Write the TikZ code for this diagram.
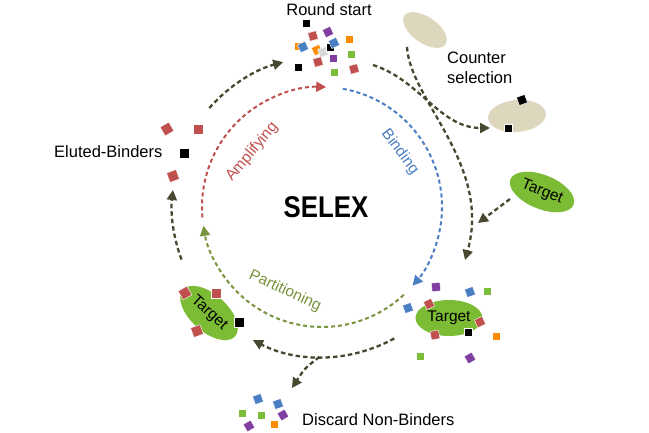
\documentclass[tikz,border=0pt]{standalone}
\usepackage{fontspec}
\usepackage{graphicx}
\setmainfont{Liberation Sans}
\usetikzlibrary{arrows.meta,shapes.geometric}
\definecolor{dk}{RGB}{72,71,48}
\definecolor{cred}{RGB}{192,80,77}
\definecolor{cblue}{RGB}{74,126,195}
\definecolor{cgreen}{RGB}{119,147,60}
\definecolor{tgreen}{RGB}{124,187,52}
\definecolor{beige}{RGB}{221,215,190}
\definecolor{sqgreen}{RGB}{124,190,58}
\definecolor{sqpurple}{RGB}{128,62,160}
\definecolor{sqorange}{RGB}{255,140,0}
\definecolor{sqgrey}{RGB}{215,215,215}
\tikzset{
  arcline/.style={line width=2pt, dash pattern=on 4pt off 3pt},
  dkline/.style={draw=dk, line width=2.3pt, dash pattern=on 4.5pt off 3pt, -{Triangle[length=10pt,width=10pt,fill=dk]}},
  sq/.style={minimum size=8.5pt, inner sep=0pt, outer sep=0pt, draw=white, line width=0.4pt},
  sqbig/.style={sq, minimum size=10pt},
  lab/.style={font=\fontsize{16.5}{19.8}\selectfont, inner sep=0pt},
  arclab/.style={font=\fontsize{15.5}{18}\selectfont, inner sep=0pt},
  tg/.style={ellipse, fill=tgreen, inner sep=0pt, font=\fontsize{15.5}{18}\selectfont},
  cs/.style={ellipse, fill=beige, inner sep=0pt}
}
\begin{document}
\begin{tikzpicture}[x=1pt,y=1pt]
\useasboundingbox (0,0) rectangle (649,-432);
\coordinate (C) at (322,-207);

% inner cycle
\coordinate (redS) at ([shift={(185:120)}]C);
\coordinate (blueS) at ([shift={(80:120)}]C);
\coordinate (greenS) at ([shift={(-47:120)}]C);
\draw[arcline, draw=cred, -{Triangle[length=10pt,width=10pt,fill=cred]}] (redS) arc[start angle=185, end angle=88, radius=120];
\draw[arcline, draw=cblue, -{Triangle[length=10pt,width=10pt,fill=cblue]}] (blueS) arc[start angle=80, end angle=-41, radius=120];
\draw[arcline, draw=cgreen, -{Triangle[length=10pt,width=10pt,fill=cgreen]}] (greenS) arc[start angle=-47, end angle=-171, radius=120];

\node[arclab, text=cred, rotate=50] (amp) at (252,-152) {Amplifying};
\node[arclab, text=cblue, rotate=-53] (bind) at (400,-152) {Binding};
\node[arclab, text=cgreen, rotate=-25] (part) at (285,-291) {Partitioning};
\node[inner sep=0pt, anchor=base, font=\fontsize{30}{32}\selectfont\bfseries] (selex) at (326,-217) {\scalebox{0.86}[1]{SELEX}};

% ellipses
\node[cs, minimum width=50pt, minimum height=26pt, rotate=-35] (cs1) at (425,-30) {};
\node[cs, minimum width=58pt, minimum height=32pt, rotate=5] (cs2) at (517,-116) {};
\node[tg, minimum width=68pt, minimum height=34pt, rotate=-22] (t1) at (542,-192) {Target};
\node[tg, minimum width=67pt, minimum height=36pt] (t2) at (449,-318) {Target};
\node[tg, minimum width=70pt, minimum height=37pt, rotate=-42] (t3) at (209,-313) {Target};

% outer dark arrows
\coordinate (o1s) at ([shift={(138.7:150)}]C);
\coordinate (o2s) at ([shift={(-61.2:150)}]C);
\coordinate (o3s) at ([shift={(200.5:150)}]C);
\coordinate (o4s) at ([shift={(-91:150)}]C);
\coordinate (rsOut) at (373,-65);
\coordinate (csIn) at (490,-128);
\coordinate (cs1Out) at (407,-47);
\coordinate (bindIn) at (465,-260);
\coordinate (t1Out) at (510,-199);
\coordinate (t1In) at (478,-223);
\coordinate (discIn) at (292,-388);
\draw[dkline] (o1s) arc[start angle=138.7, end angle=105, radius=150];
\draw[dkline] (o2s) arc[start angle=-61.2, end angle=-117.4, radius=150];
\draw[dkline] (o3s) arc[start angle=200.5, end angle=173.5, radius=150];
\draw[dkline] (o4s) .. controls (305,-368) .. (discIn);
\draw[dkline] (rsOut) .. controls (420,-80) and (440,-128) .. (csIn);
\draw[dkline] (cs1Out) .. controls (410,-100) and (492,-165) .. (bindIn);
\draw[dkline] (t1Out) -- (t1In);

% labels
\node[lab, anchor=base] (rs) at (329,-15) {Round start};
\node[lab, anchor=north west, align=left] (csl) at (447,-52) {Counter\\selection};
\node[lab, anchor=base west] (elu) at (54,-157) {Eluted-Binders};
\node[lab, anchor=base west] (disc) at (302,-425) {Discard Non-Binders};

% round start squares
\node[sq, fill=black] (a1) at (306,-23) {};
\node[sq, fill=cred, rotate=15] (a2) at (313,-36) {};
\node[sq, fill=sqpurple, rotate=25] (a3) at (328,-32) {};
\node[sq, fill=sqorange] (a4) at (298,-46) {};
\node[sq, fill=cblue, rotate=25] (a5) at (303,-47) {};
\node[sq, fill=sqorange, rotate=25] (a6) at (317,-50) {};
\node[sq, fill=sqgrey, rotate=20] (a7) at (323,-52) {};
\node[sq, fill=black] (a8) at (330,-47) {};
\node[sq, fill=cblue, rotate=25] (a9) at (334,-43) {};
\node[sq, fill=sqorange] (a10) at (349,-39) {};
\node[sq, fill=sqgreen] (a11) at (351,-54) {};
\node[sq, fill=sqpurple] (a12) at (333,-58) {};
\node[sq, fill=cred, rotate=15] (a13) at (318,-62) {};
\node[sq, fill=black] (a14) at (298,-67) {};
\node[sq, fill=sqgreen] (a15) at (334,-72) {};
\node[sq, fill=cred, rotate=15] (a16) at (354,-69) {};

% counter selection squares
\node[sq, fill=black, rotate=20] (c1) at (522,-100) {};
\node[sq, fill=black] (c2) at (508,-128) {};

% eluted squares
\node[sqbig, fill=cred, rotate=30] (e1) at (167,-129) {};
\node[sqbig, fill=cred] (e2) at (198,-129) {};
\node[sqbig, fill=black] (e3) at (184,-153) {};
\node[sqbig, fill=cred, rotate=20] (e4) at (173,-176) {};

% bound squares (bottom right)
\node[sq, fill=sqpurple, rotate=5] (b1) at (436,-287) {};
\node[sq, fill=cblue, rotate=20] (b2) at (470,-292) {};
\node[sq, fill=sqgreen] (b3) at (487,-291) {};
\node[sq, fill=cblue, rotate=20] (b4) at (408,-308) {};
\node[sq, fill=cred, rotate=25] (b5) at (429,-304) {};
\node[sq, fill=cred, rotate=25] (b6) at (480,-322) {};
\node[sq, fill=cred, rotate=10] (b7) at (435,-335) {};
\node[sq, fill=black] (b8) at (468,-332) {};
\node[sq, fill=sqorange] (b9) at (496,-336) {};
\node[sq, fill=sqgreen] (b10) at (420,-356) {};
\node[sq, fill=sqpurple, rotate=30] (b11) at (470,-358) {};

% partition squares (bottom left)
\node[sqbig, fill=cred, rotate=30] (p1) at (185,-293) {};
\node[sqbig, fill=cred] (p2) at (216,-293) {};
\node[sqbig, fill=black] (p3) at (239,-322) {};
\node[sqbig, fill=cred, rotate=20] (p4) at (197,-331) {};

% discard squares
\node[sq, fill=cblue, rotate=20] (d1) at (258,-399) {};
\node[sq, fill=cblue, rotate=20] (d2) at (278,-404) {};
\node[sq, fill=sqgreen] (d3) at (242,-413) {};
\node[sq, fill=sqgreen] (d4) at (261,-415) {};
\node[sq, fill=sqpurple, rotate=30] (d5) at (283,-415) {};
\node[sq, fill=sqpurple, rotate=30] (d6) at (249,-426) {};
\node[sq, fill=sqorange] (d7) at (274,-424) {};
\end{tikzpicture}
\end{document}
